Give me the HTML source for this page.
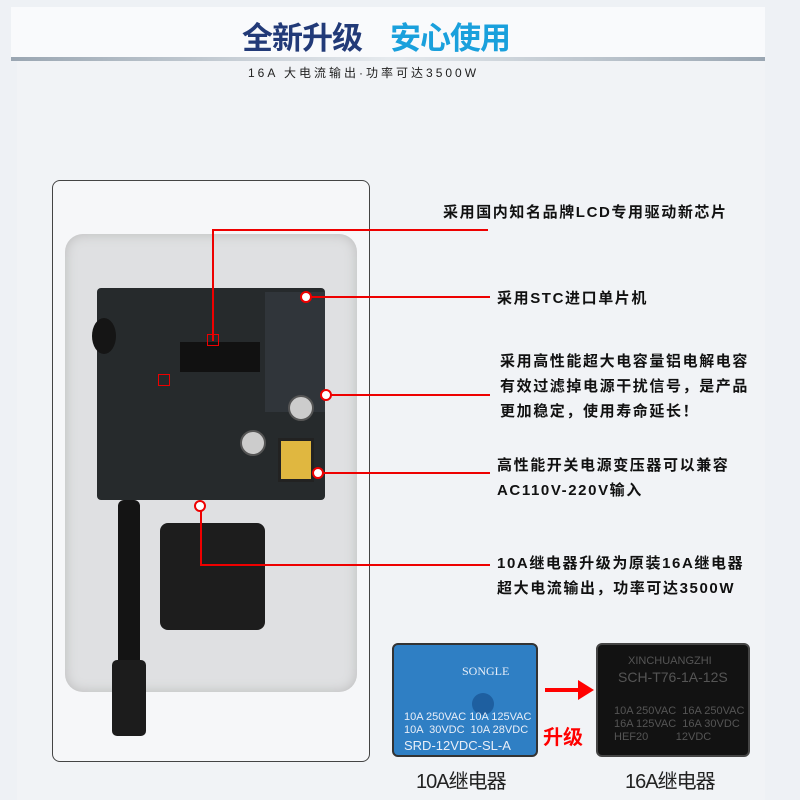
<!DOCTYPE html>
<html><head><meta charset="utf-8"><style>
body{margin:0;width:800px;height:800px;overflow:hidden;background:#eef1f5;font-family:"Liberation Sans","Noto Sans CJK SC",sans-serif;position:relative}
.a{position:absolute}
.t{position:absolute;font-size:15px;font-weight:bold;color:#111;line-height:25px;letter-spacing:1.6px;white-space:nowrap}
.r{position:absolute;background:#e00}
.c{position:absolute;width:8px;height:8px;border:2px solid #e00;border-radius:50%;background:#fff}
</style></head><body>
<div class="a" style="left:17px;top:7px;width:748px;height:793px;background:#f1f3f6"></div>
<div class="a" style="left:11px;top:7px;width:754px;height:50px;background:#f9fafc"></div>
<div class="a" style="left:11px;top:57px;width:754px;height:4px;background:linear-gradient(90deg,#9aa6b2,#e6eaee 50%,#9aa6b2)"></div>
<div class="a" style="left:0;top:13px;width:752px;text-align:center;font-size:31px;font-weight:bold;letter-spacing:-1px"><span style="color:#223a78">全新升级</span><span style="display:inline-block;width:28px"></span><span style="color:#1aa0dc">安心使用</span></div>
<div class="a" style="left:248px;top:64px;font-size:12px;color:#222;letter-spacing:3px">16A 大电流输出·功率可达3500W</div>

<!-- photo -->
<div class="a" style="left:52px;top:180px;width:316px;height:580px;border:1px solid #444;border-radius:8px;background:#f6f7f9"></div>
<div class="a" style="left:65px;top:234px;width:292px;height:458px;border-radius:18px;background:#dfe0e2;box-shadow:inset 0 0 12px #bbb"></div>
<div class="a" style="left:97px;top:288px;width:228px;height:212px;background:#262a2c;border-radius:4px"></div>
<div class="a" style="left:265px;top:292px;width:60px;height:120px;background:#30353a"></div>
<div class="a" style="left:180px;top:342px;width:80px;height:30px;background:#111"></div>
<div class="a" style="left:92px;top:318px;width:24px;height:36px;border-radius:50%;background:#151515"></div>
<div class="a" style="left:278px;top:438px;width:30px;height:38px;background:#e0b740;border:3px solid #222"></div>
<div class="a" style="left:160px;top:523px;width:105px;height:107px;background:#1d1d1d;border-radius:8px"></div>
<div class="a" style="left:118px;top:500px;width:22px;height:185px;background:#141414;border-radius:6px"></div>
<div class="a" style="left:112px;top:660px;width:34px;height:76px;background:#1c1c1c;border-radius:5px"></div>
<div class="a" style="left:240px;top:430px;width:22px;height:22px;border-radius:50%;background:#ccc;border:2px solid #555"></div>
<div class="a" style="left:288px;top:395px;width:22px;height:22px;border-radius:50%;background:#ccc;border:2px solid #555"></div>

<!-- callouts -->
<div class="r" style="left:212px;top:229px;width:276px;height:2px"></div>
<div class="r" style="left:212px;top:229px;width:2px;height:112px"></div>
<div class="a" style="left:207px;top:334px;width:10px;height:10px;border:1.5px solid #e00"></div>
<div class="a" style="left:158px;top:374px;width:10px;height:10px;border:1.5px solid #e00"></div>
<div class="r" style="left:306px;top:296px;width:184px;height:2px"></div><div class="c" style="left:300px;top:291px"></div>
<div class="r" style="left:326px;top:394px;width:164px;height:2px"></div><div class="c" style="left:320px;top:389px"></div>
<div class="r" style="left:318px;top:472px;width:172px;height:2px"></div><div class="c" style="left:312px;top:467px"></div>
<div class="r" style="left:200px;top:506px;width:2px;height:60px"></div><div class="c" style="left:194px;top:500px"></div>
<div class="r" style="left:200px;top:564px;width:290px;height:2px"></div>

<div class="t" style="left:443px;top:200px">采用国内知名品牌LCD专用驱动新芯片</div>
<div class="t" style="left:497px;top:286px">采用STC进口单片机</div>
<div class="t" style="left:500px;top:349px">采用高性能超大电容量铝电解电容<br>有效过滤掉电源干扰信号，是产品<br>更加稳定，使用寿命延长！</div>
<div class="t" style="left:497px;top:453px">高性能开关电源变压器可以兼容<br>AC110V-220V输入</div>
<div class="t" style="left:497px;top:551px">10A继电器升级为原装16A继电器<br>超大电流输出，功率可达3500W</div>

<!-- relays -->
<div class="a" style="left:392px;top:643px;width:142px;height:110px;border:2px solid #333;border-radius:6px;background:#2f7fc4;color:#e8eef8;font-size:11px;line-height:13px">
<div style="position:absolute;left:68px;top:20px;font-family:'Liberation Serif',serif;font-size:12px">SONGLE</div>
<div style="position:absolute;left:78px;top:48px;width:22px;height:22px;border-radius:50%;background:#1e5fa0"></div>
<div style="position:absolute;left:10px;top:66px">10A 250VAC 10A 125VAC<br>10A &nbsp;30VDC &nbsp;10A 28VDC</div>
<div style="position:absolute;left:10px;top:94px;font-size:13px">SRD-12VDC-SL-A</div></div>
<div class="a" style="left:545px;top:688px;width:40px;height:4px;background:#f00"></div>
<div class="a" style="left:578px;top:680px;width:0;height:0;border-left:16px solid #f00;border-top:10px solid transparent;border-bottom:10px solid transparent"></div>
<div class="a" style="left:543px;top:721px;font-size:20px;font-weight:bold;color:#f00">升级</div>
<div class="a" style="left:596px;top:643px;width:150px;height:110px;border:2px solid #444;border-radius:6px;background:#121212;color:#555;font-size:11px;line-height:13px">
<div style="position:absolute;left:30px;top:10px">XINCHUANGZHI</div>
<div style="position:absolute;left:20px;top:26px;font-size:14px">SCH-T76-1A-12S</div>
<div style="position:absolute;left:16px;top:60px">10A 250VAC &nbsp;16A 250VAC<br>16A 125VAC &nbsp;16A 30VDC<br>HEF20 &nbsp;&nbsp;&nbsp;&nbsp;&nbsp;&nbsp;&nbsp;&nbsp;12VDC</div></div>
<div class="a" style="left:416px;top:765px;font-size:20px;color:#222;letter-spacing:-1px">10A继电器</div>
<div class="a" style="left:625px;top:765px;font-size:20px;color:#222;letter-spacing:-1px">16A继电器</div>
</body></html>
